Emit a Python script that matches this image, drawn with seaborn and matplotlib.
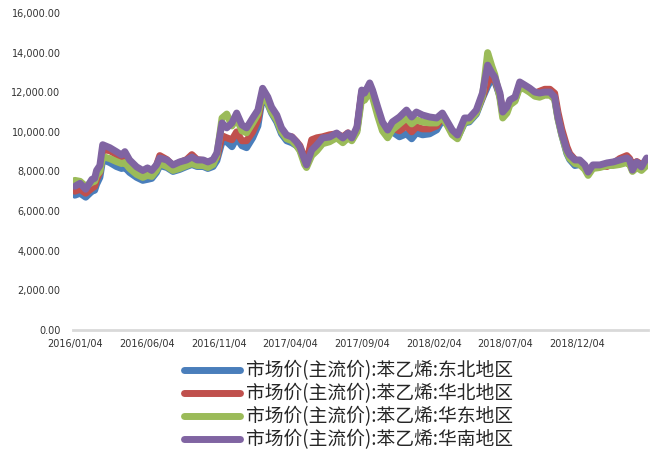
import numpy as np
import pandas as pd
import seaborn as sns
import matplotlib.pyplot as plt
import matplotlib.dates as mdates
from matplotlib.ticker import FuncFormatter

# dates (roughly every one to two weeks)
dates = [
    "2016-01-04", "2016-01-15", "2016-01-27", "2016-02-09", "2016-02-15", "2016-02-19", "2016-02-26",
    "2016-03-03", "2016-03-18", "2016-04-01", "2016-04-12", "2016-04-19", "2016-04-29", "2016-05-14",
    "2016-05-27", "2016-06-06", "2016-06-15", "2016-06-25", "2016-07-02", "2016-07-17", "2016-07-30",
    "2016-08-13", "2016-08-28", "2016-09-08", "2016-09-19", "2016-10-02", "2016-10-12", "2016-10-23",
    "2016-10-31", "2016-11-11", "2016-11-21", "2016-12-02", "2016-12-12", "2016-12-23", "2017-01-02",
    "2017-01-15", "2017-01-26", "2017-02-05", "2017-02-16", "2017-02-24", "2017-03-07", "2017-03-17",
    "2017-03-28", "2017-04-08", "2017-04-18", "2017-04-25", "2017-05-05", "2017-05-09", "2017-05-20",
    "2017-05-31", "2017-06-12", "2017-06-27", "2017-07-12", "2017-07-25", "2017-08-05", "2017-08-13",
    "2017-08-24", "2017-09-03", "2017-09-09", "2017-09-20", "2017-09-26", "2017-10-07", "2017-10-17",
    "2017-10-28", "2017-11-07", "2017-11-22", "2017-12-07", "2017-12-18", "2017-12-28", "2018-01-10",
    "2018-01-25", "2018-02-09", "2018-02-21", "2018-03-04", "2018-03-14", "2018-03-25", "2018-04-09",
    "2018-04-19", "2018-05-04", "2018-05-17", "2018-05-28", "2018-06-06", "2018-06-12", "2018-06-23",
    "2018-06-29", "2018-07-08", "2018-07-14", "2018-07-25", "2018-08-04", "2018-08-15", "2018-08-25",
    "2018-09-05", "2018-09-15", "2018-09-26", "2018-10-07", "2018-10-17", "2018-10-24", "2018-11-01",
    "2018-11-12", "2018-11-18", "2018-11-29", "2018-12-09", "2018-12-20", "2018-12-27", "2019-01-06",
    "2019-01-21", "2019-02-05", "2019-02-18", "2019-03-04", "2019-03-19", "2019-03-25", "2019-03-31",
    "2019-04-09", "2019-04-19", "2019-04-30",
]

dongbei = [
    6800, 6900, 6700, 7000, 7050, 7350, 7700, 8600, 8450, 8250, 8150, 8200, 7950, 7700,
    7550, 7600, 7650, 7950, 8300, 8200, 8000, 8100, 8250, 8350, 8250, 8250, 8150, 8250,
    8550, 9500, 9500, 9250, 9700, 9300, 9200, 9700, 10300, 11800, 11400, 10950, 10500, 9900,
    9550, 9450, 9300, 9100, 8550, 8400, 9450, 9600, 9650, 9700, 9800, 9650, 9800, 9600,
    10100, 11900, 11750, 12200, 11900, 11000, 10250, 9850, 10000, 9750, 9900, 9650, 9950, 9850,
    9900, 10100, 10600, 10350, 9950, 9700, 10450, 10500, 10900, 11700, 12300, 12700, 12550, 11800,
    10900, 11100, 11450, 11600, 12350, 12250, 12100, 11900, 11900, 11950, 11950, 11700, 10700, 9850,
    8900, 8600, 8300, 8350, 8200, 7900, 8250, 8250, 8350, 8400, 8500, 8600, 8500, 8050,
    8400, 8150, 8550,
]
huabei = [
    7000, 7100, 6900, 7150, 7250, 7600, 7950, 9100, 9050, 8850, 8700, 8750, 8450, 8100,
    7950, 8050, 7950, 8300, 8800, 8600, 8300, 8450, 8600, 8850, 8600, 8550, 8450, 8500,
    8700, 9800, 9700, 9600, 10000, 9550, 9550, 10000, 10600, 12000, 11600, 11100, 10700, 10100,
    9750, 9750, 9500, 9300, 8650, 8450, 9600, 9700, 9750, 9850, 9900, 9750, 9950, 9650,
    10150, 12000, 11850, 12300, 12000, 11100, 10350, 9950, 10200, 10050, 10300, 10000, 10250, 10150,
    10150, 10300, 10750, 10400, 10000, 9750, 10550, 10600, 11000, 11750, 12500, 12800, 12650, 11850,
    10950, 11150, 11500, 11650, 12400, 12300, 12150, 11950, 12050, 12150, 12150, 11950, 11000, 10150,
    9250, 8900, 8600, 8500, 8300, 7950, 8250, 8300, 8250, 8400, 8650, 8800, 8650, 8300,
    8500, 8350, 8500,
]
huadong = [
    7550, 7500, 7250, 7450, 7500, 7800, 8000, 8750, 8650, 8500, 8400, 8450, 8150, 7850,
    7700, 7800, 7750, 8050, 8400, 8250, 8050, 8150, 8300, 8400, 8300, 8300, 8200, 8350,
    8800, 10700, 10900, 10300, 10700, 10050, 9950, 10450, 10900, 11900, 11450, 11000, 10600, 10000,
    9650, 9550, 9300, 9050, 8350, 8200, 8800, 9050, 9400, 9500, 9700, 9450, 9700, 9550,
    10000, 11700, 11600, 12000, 11750, 10800, 10050, 9700, 10100, 10400, 10700, 10400, 10600, 10500,
    10450, 10450, 10750, 10300, 9850, 9650, 10500, 10550, 10950, 11800, 14000, 13300, 12900, 11700,
    10700, 10950, 11350, 11550, 12250, 12150, 12000, 11800, 11750, 11850, 11850, 11650, 10650, 9850,
    8950, 8650, 8400, 8350, 8100, 7800, 8150, 8200, 8300, 8300, 8350, 8450, 8350, 8000,
    8200, 8050, 8300,
]
huanan = [
    7250, 7400, 7100, 7600, 7650, 8050, 8300, 9350, 9200, 9000, 8830, 9000, 8580, 8230,
    8050, 8180, 8050, 8330, 8680, 8580, 8330, 8480, 8580, 8730, 8580, 8580, 8480, 8600,
    8930, 10450, 10200, 10450, 10950, 10350, 10200, 10700, 11100, 12200, 11760, 11250, 10850, 10200,
    9840, 9740, 9490, 9240, 8580, 8330, 9080, 9340, 9690, 9740, 9940, 9690, 9940, 9690,
    10250, 12110, 11960, 12470, 12110, 11250, 10500, 10090, 10500, 10750, 11100, 10750, 11000, 10850,
    10750, 10700, 10950, 10500, 10090, 9840, 10700, 10700, 11100, 11960, 13370, 12970, 12770, 11960,
    11000, 11250, 11610, 11760, 12520, 12360, 12210, 12010, 11960, 12010, 12010, 11760, 10750, 9940,
    9080, 8830, 8580, 8580, 8330, 7970, 8330, 8330, 8430, 8480, 8580, 8680, 8580, 8070,
    8480, 8230, 8680,
]

series_names = [
    "市场价(主流价):苯乙烯:东北地区",
    "市场价(主流价):苯乙烯:华北地区",
    "市场价(主流价):苯乙烯:华东地区",
    "市场价(主流价):苯乙烯:华南地区",
]
colors = ["#4A7EBB", "#C0504D", "#9BBB59", "#8064A2"]

tick_dates = ["2016-01-04", "2016-06-04", "2016-11-04", "2017-04-04",
              "2017-09-04", "2018-02-04", "2018-07-04", "2018-12-04"]

frames = []
for name, vals in zip(series_names, [dongbei, huabei, huadong, huanan]):
    frames.append(pd.DataFrame({"date": pd.to_datetime(dates), "price": vals, "series": name}))
df = pd.concat(frames, ignore_index=True)

sns.set_style("white")
plt.rcParams["font.family"] = ["DejaVu Sans"]

fig = plt.figure(figsize=(6.61, 4.5), dpi=100)
ax = fig.add_axes([0.1104, 0.267, 0.870, 0.704])

sns.lineplot(data=df, x="date", y="price", hue="series", hue_order=series_names,
             palette=colors, linewidth=5, ax=ax, legend=True)
for ln in ax.get_lines():
    ln.set_solid_capstyle("round")
    ln.set_solid_joinstyle("round")

ax.set_ylim(0, 16000)
ax.set_yticks(np.arange(0, 16001, 2000))
ax.yaxis.set_major_formatter(FuncFormatter(lambda v, p: f"{v:,.2f}"))
ax.set_xlim(pd.Timestamp("2015-12-31"), pd.Timestamp("2019-05-03"))
ax.set_xticks(pd.to_datetime(tick_dates))
ax.xaxis.set_major_formatter(mdates.DateFormatter("%Y/%m/%d"))
ax.tick_params(axis="both", length=0, labelsize=7, colors="#333333")
ax.tick_params(axis="y", pad=9)
ax.tick_params(axis="x", pad=6.5)
ax.set_xlabel("")
ax.set_ylabel("")
for s in ["top", "right", "left"]:
    ax.spines[s].set_visible(False)
ax.spines["bottom"].set_color("#D9D9D9")
ax.spines["bottom"].set_linewidth(2)

handles, labels = ax.get_legend_handles_labels()
ax.get_legend().remove()
leg = fig.legend(handles, labels, loc="upper center", bbox_to_anchor=(0.527, 0.228),
                 frameon=False, handlelength=3.0, handletextpad=0.3, labelspacing=0.1,
                 borderpad=0.2,
                 prop={"family": ["Noto Sans CJK SC", "DejaVu Sans"], "size": 13.5})
for ln in leg.get_lines():
    ln.set_linewidth(5)
    ln.set_solid_capstyle("round")

fig.savefig("out.png", dpi=100)
